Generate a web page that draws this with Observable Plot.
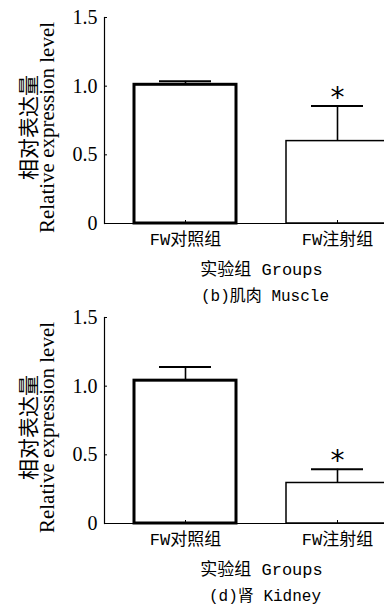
<!DOCTYPE html>
<html><head><meta charset="utf-8">
<script src="https://cdn.jsdelivr.net/npm/d3@7"></script>
<script src="https://cdn.jsdelivr.net/npm/@observablehq/plot@0.6"></script>
<style>
body{margin:0;background:#fff;overflow:hidden;width:384px;height:607px}
.panel{position:relative;height:300px;width:384px;overflow:visible}
.cap{position:relative;z-index:2;height:12px;line-height:18px;padding-left:146px;text-align:center;font-size:16px;font-family:"Liberation Mono","Noto Sans CJK SC",monospace;color:#000;white-space:nowrap}
svg{display:block}
</style></head><body>
<div id="a" class="panel"></div><div id="b" class="panel"></div>
<script>
const groups = ["FW对照组", "FW注射组"];
const muscleMean = [1.01, 0.60];
const muscleErr = [0.025, 0.255];
const kidneyMean = [1.04, 0.295];
const kidneyErr = [0.10, 0.10];
const significance = ["", "*"];
const yTicks = [0, 0.5, 1.0, 1.5];
const yTickLabels = ["0", "0.5", "1.0", "1.5"];
const yLabelZh = "相对表达量";
const yLabelEn = "Relative expression level";
const xLabel = "实验组 Groups";
const captions = ["(b)肌肉 Muscle", "(d)肾 Kidney"];

const monoCJK = "'Liberation Mono','Noto Sans CJK SC',monospace";

function makePanel(id, means, errs, caption) {
  const rows = groups.map((g, i) => ({group: g, mean: means[i], err: errs[i], top: means[i] + errs[i], sig: significance[i]}));
  const svg = Plot.plot({
    width: 384, height: 288,
    marginLeft: 104, marginRight: -34, marginTop: 17, marginBottom: 65,
    style: {background: "transparent", color: "black", overflow: "visible"},
    x: {domain: groups, paddingInner: 0.327, paddingOuter: 0.19, axis: null},
    y: {domain: [0, 1.5], axis: null},
    marks: [
      Plot.barY(rows.filter((d, i) => i === 0), {x: "group", y: "mean", fill: "white", stroke: "black", strokeWidth: 3}),
      Plot.barY(rows.filter((d, i) => i === 1), {x: "group", y: "mean", fill: "white", stroke: "black", strokeWidth: 1.5}),
      Plot.ruleX(rows, {x: "group", y1: "mean", y2: "top", stroke: "black", strokeWidth: 1.6}),
      Plot.tickY(rows, {x: "group", y: "top", insetLeft: 25, insetRight: 25, stroke: "black", strokeWidth: 2}),
      Plot.text(rows, {x: "group", y: "top", text: "sig", dy: -8, fontSize: 28, fontFamily: "DejaVu Sans", fill: "black"}),
      Plot.ruleY([0], {stroke: "black", strokeWidth: 1.2}),
      Plot.frame({anchor: "left", stroke: "black", strokeWidth: 1.2}),
      Plot.axisY({ticks: yTicks, tickSize: 3, dx: 3, fill: "none", label: null, stroke: "black"}),
      Plot.text(yTicks, {y: d => d, text: d => yTickLabels[yTicks.indexOf(d)], frameAnchor: "left", textAnchor: "end", lineAnchor: "middle", dx: -7, fontSize: 20, fontFamily: "Liberation Serif", fill: "black"}),
      Plot.axisX({tickSize: 3, dy: -3, fill: "none", label: null, stroke: "black"}),
      Plot.text(groups, {x: d => d, text: d => d, frameAnchor: "bottom", textAnchor: "middle", lineAnchor: "middle", dy: 16, fontSize: 17, fontFamily: monoCJK, fill: "black"}),
      Plot.text([yLabelZh], {text: d => d, frameAnchor: "left", textAnchor: "middle", lineAnchor: "middle", rotate: -90, dx: -75, dy: 7, fontSize: 21, fontFamily: "Noto Sans CJK SC", fill: "black"}),
      Plot.text([yLabelEn], {text: d => d, frameAnchor: "left", textAnchor: "middle", lineAnchor: "middle", rotate: -90, dx: -57, dy: 7, fontSize: 21, fontFamily: "Liberation Serif", fill: "black"}),
      Plot.text([xLabel], {text: d => d, frameAnchor: "bottom", textAnchor: "middle", lineAnchor: "middle", dy: 46, fontSize: 17, fontFamily: monoCJK, fill: "black"})
    ]
  });
  const el = document.getElementById(id);
  el.appendChild(svg);
  const cap = document.createElement("div");
  cap.className = "cap";
  cap.textContent = caption;
  el.appendChild(cap);
}
makePanel("a", muscleMean, muscleErr, captions[0]);
makePanel("b", kidneyMean, kidneyErr, captions[1]);
</script>
</body></html>
